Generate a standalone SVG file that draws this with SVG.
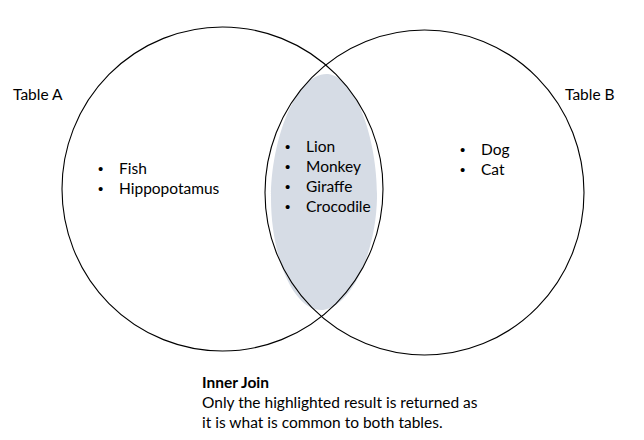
<svg xmlns="http://www.w3.org/2000/svg" width="644" height="440" viewBox="0 0 644 440">
<style>
.t{font-family:Lato,"Liberation Sans",sans-serif;font-size:15.5px;fill:#000}
.d{font-family:"Liberation Sans",sans-serif;font-size:15px;fill:#000}
.b{font-weight:bold}
.c{fill:none;stroke:#000;stroke-width:1.1}
</style>
<rect width="644" height="440" fill="#fff"/>
<g id="highlight">
<path d="M328,74 C358,78 378,145 377,198 C376,252 352,306 323,310 C294,312 271,258 271,198 C271,140 296,72 328,74 Z" fill="#D6DCE5"/>
</g>
<g id="tableA">
<ellipse class="c" cx="222.5" cy="189" rx="160.5" ry="162"/>
<text class="t" x="13" y="100">Table A</text>
<text class="d" x="98" y="173.5">•</text><text class="t" x="119" y="174">Fish</text>
<text class="d" x="98" y="193.5">•</text><text class="t" x="119" y="194">Hippopotamus</text>
</g>
<g id="tableB">
<ellipse class="c" cx="424.5" cy="192.5" rx="159.5" ry="162.5"/>
<text class="t" x="565" y="100">Table B</text>
<text class="d" x="460" y="154.5">•</text><text class="t" x="481" y="155">Dog</text>
<text class="d" x="460" y="174.5">•</text><text class="t" x="481" y="175">Cat</text>
</g>
<g id="common">
<text class="d" x="285" y="151.5">•</text><text class="t" x="306" y="152">Lion</text>
<text class="d" x="285" y="171.5">•</text><text class="t" x="306" y="172">Monkey</text>
<text class="d" x="285" y="191.5">•</text><text class="t" x="306" y="192">Giraffe</text>
<text class="d" x="285" y="211.5">•</text><text class="t" x="306" y="212">Crocodile</text>
</g>
<g id="caption">
<text class="t b" x="202" y="388">Inner Join</text>
<text class="t" x="202" y="408">Only the highlighted result is returned as</text>
<text class="t" x="202" y="428">it is what is common to both tables.</text>
</g>
</svg>
